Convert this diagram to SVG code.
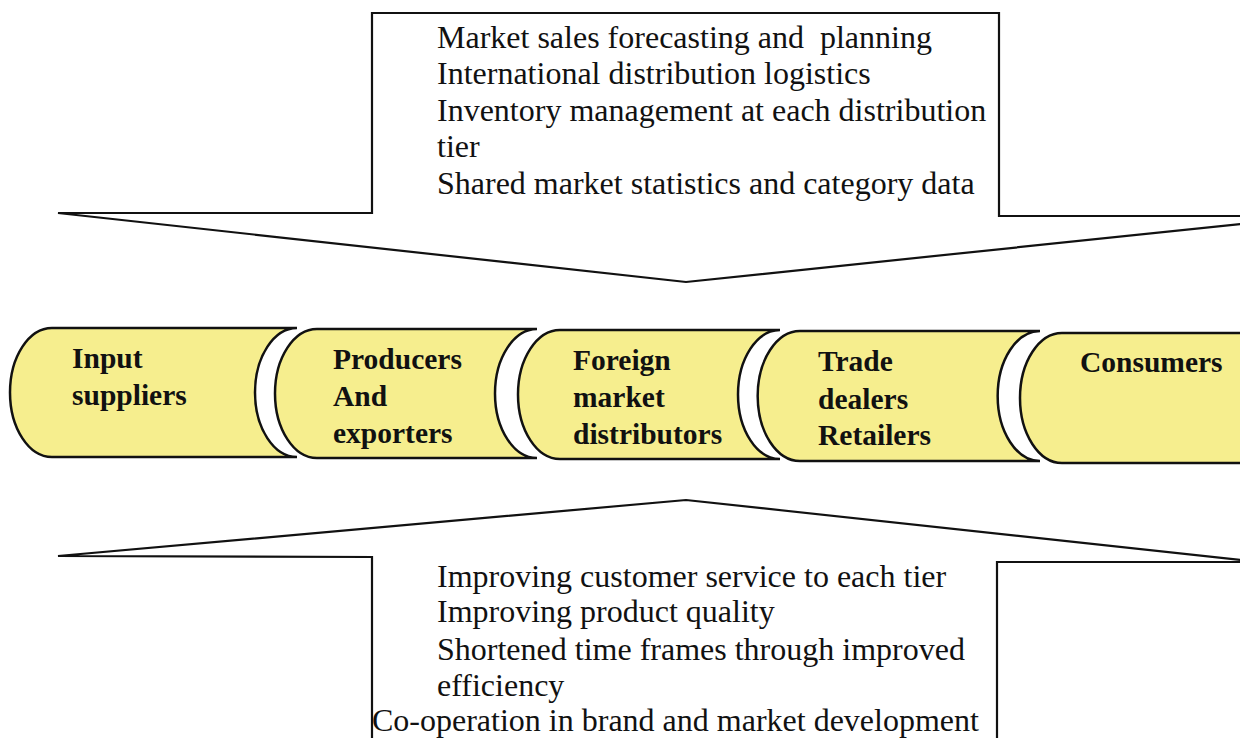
<svg xmlns="http://www.w3.org/2000/svg" width="1240" height="738" viewBox="0 0 1240 738">
<style>
.bg{fill:#ffffff}
.call{fill:#ffffff;stroke:#111;stroke-width:2.2;stroke-linejoin:miter}
.node{fill:#F6EE8E;stroke:#111;stroke-width:2.5}
.t{font-family:"Liberation Serif","Times New Roman",serif;font-size:32px;fill:#111}
.n{font-family:"Liberation Serif","Times New Roman",serif;font-size:29.5px;font-weight:bold;fill:#111}
</style>
<rect class="bg" x="0" y="0" width="1240" height="738"/>
<g id="connectors">
  <g id="top-callout">
    <path class="call" d="M58,213 L372,213 L372,13 L999,13 L999,216 L1250,216 L1250,223 L686,282 Z"/>
  </g>
  <g id="bottom-callout">
    <path class="call" d="M58,556 L686,500 L1250,561 L1250,562 L997,562 L997,745 L372,745 L372,557 Z"/>
  </g>
</g>
<g id="top-text">
  <text class="t" x="437" y="48" xml:space="preserve">Market sales forecasting and  planning</text>
  <text class="t" x="437" y="84">International distribution logistics</text>
  <text class="t" x="437" y="121">Inventory management at each distribution</text>
  <text class="t" x="437" y="157">tier</text>
  <text class="t" x="437" y="194">Shared market statistics and category data</text>
</g>
<g id="bottom-text">
  <text class="t" x="437" y="587">Improving customer service to each tier</text>
  <text class="t" x="437" y="622">Improving product quality</text>
  <text class="t" x="437" y="660">Shortened time frames through improved</text>
  <text class="t" x="437" y="696">efficiency</text>
  <text class="t" x="372" y="731">Co-operation in brand and market development</text>
</g>
<g id="node-input-suppliers">
  <path class="node" d="M52,328 L297,328 A42 64.5 0 0 0 297,457 L52,457 A42 64.5 0 0 1 52,328 Z"/>
  <text class="n" x="72" y="368">Input</text>
  <text class="n" x="72" y="405">suppliers</text>
</g>
<g id="node-producers">
  <path class="node" d="M317,329 L537,329 A42 64.5 0 0 0 537,458 L317,458 A42 64.5 0 0 1 317,329 Z"/>
  <text class="n" x="333" y="369">Producers</text>
  <text class="n" x="333" y="406">And</text>
  <text class="n" x="333" y="443">exporters</text>
</g>
<g id="node-foreign">
  <path class="node" d="M560,330 L780,330 A42 64.5 0 0 0 780,459 L560,459 A42 64.5 0 0 1 560,330 Z"/>
  <text class="n" x="573" y="370">Foreign</text>
  <text class="n" x="573" y="407">market</text>
  <text class="n" x="573" y="444">distributors</text>
</g>
<g id="node-trade">
  <path class="node" d="M800,331 L1040,331 A42 64.5 0 0 0 1040,461 L800,461 A42 64.5 0 0 1 800,331 Z"/>
  <text class="n" x="818" y="371">Trade</text>
  <text class="n" x="818" y="409">dealers</text>
  <text class="n" x="818" y="445">Retailers</text>
</g>
<g id="node-consumers">
  <path class="node" d="M1062,333 L1250,333 L1250,463 L1062,463 A42 65 0 0 1 1062,333 Z"/>
  <text class="n" x="1080" y="372">Consumers</text>
</g>
</svg>
